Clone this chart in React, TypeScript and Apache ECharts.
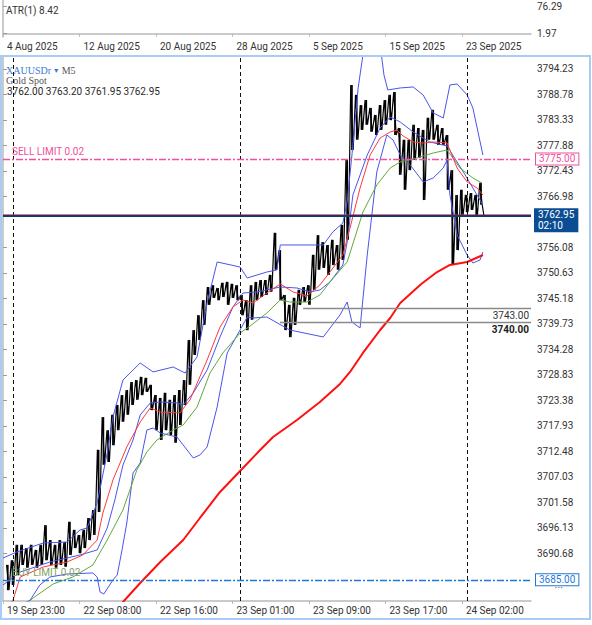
import React, { useEffect, useRef } from 'react';
import * as echarts from 'echarts';

// ---- labels ----
const topDateLabels = ['4 Aug 2025', '12 Aug 2025', '20 Aug 2025', '28 Aug 2025', '5 Sep 2025', '15 Sep 2025', '23 Sep 2025'];
const timeLabels = ['19 Sep 23:00', '22 Sep 08:00', '22 Sep 16:00', '23 Sep 01:00', '23 Sep 09:00', '23 Sep 17:00', '24 Sep 02:00'];
const priceTicks = [3794.23, 3788.78, 3783.33, 3777.88, 3772.43, 3766.98, 3756.08, 3750.63, 3745.18, 3739.73, 3734.28, 3728.83, 3723.38, 3717.93, 3712.48, 3707.03, 3701.58, 3696.13, 3690.68];
const atrTicks = [1.97, 76.29];

// x unit = 30-minute block of trading time since 19 Sep 23:00
const X_MAX = 110.46;
const Y_MIN = 3680.48;
const Y_MAX = 3796.79;

// ---- price (30-min block highs / lows, blocks 1..100) ----
const priceHigh = [
  3688.2, 3689.2, 3692.5, 3692.5, 3691.8, 3692.5, 3691.4, 3692.5, 3696.7, 3693.5,
  3692.5, 3693.5, 3693.1, 3697.4, 3695.7, 3694.6, 3695.7, 3698.2, 3699.9, 3712.8,
  3719.8, 3717.0, 3720.3, 3722.4, 3724.5, 3725.6, 3727.3, 3727.7, 3728.4, 3728.2,
  3726.7, 3724.5, 3723.9, 3725.0, 3723.5, 3724.5, 3725.6, 3727.7, 3736.3, 3738.4,
  3741.6, 3744.8, 3747.6, 3748.0, 3747.4, 3748.5, 3748.7, 3748.3, 3748.0, 3745.9,
  3744.8, 3748.0, 3748.7, 3749.1, 3749.1, 3750.2, 3759.2, 3755.5, 3745.9, 3743.8,
  3745.3, 3747.0, 3747.6, 3748.0, 3754.5, 3758.7, 3757.2, 3756.6, 3757.7, 3756.6,
  3760.9, 3774.8, 3790.8, 3788.7, 3786.5, 3787.6, 3785.9, 3784.4, 3786.5, 3787.6,
  3788.7, 3789.3, 3781.6, 3779.1, 3779.1, 3782.3, 3781.6, 3781.2, 3783.8, 3785.5,
  3782.3, 3781.6, 3780.1, 3772.6, 3767.3, 3768.4, 3767.3, 3767.7, 3767.3, 3769.9,
];
const priceLow = [
  3682.8, 3683.9, 3686.0, 3688.2, 3687.6, 3688.2, 3687.6, 3688.2, 3689.2, 3688.2,
  3687.6, 3688.2, 3687.8, 3690.3, 3691.8, 3690.7, 3691.8, 3693.5, 3694.6, 3699.5,
  3709.6, 3710.2, 3713.8, 3717.0, 3718.8, 3720.3, 3722.4, 3723.5, 3724.5, 3725.2,
  3721.3, 3717.0, 3714.9, 3717.0, 3716.0, 3714.3, 3718.1, 3722.4, 3726.7, 3733.1,
  3736.3, 3739.5, 3743.8, 3745.3, 3744.8, 3745.5, 3743.8, 3745.3, 3744.8, 3741.6,
  3738.4, 3740.6, 3744.8, 3745.5, 3745.9, 3746.6, 3751.3, 3744.8, 3738.4, 3736.9,
  3739.5, 3743.8, 3744.4, 3743.8, 3747.0, 3751.3, 3751.7, 3750.2, 3752.3, 3751.3,
  3753.4, 3757.7, 3776.9, 3779.1, 3781.2, 3782.3, 3780.8, 3780.1, 3781.2, 3782.3,
  3783.3, 3780.1, 3771.6, 3768.4, 3772.6, 3774.8, 3775.2, 3766.2, 3779.1, 3779.1,
  3778.0, 3778.0, 3768.4, 3752.3, 3755.5, 3763.0, 3763.6, 3764.1, 3763.0, 3765.2,
];
const lastBar = [100.6, 3762.95];

// ---- indicators [x, price] ----
const bbUpper = [
  [0, 3689.67], [2.9, 3690.96], [8.4, 3692.88], [13.4, 3693.1], [16.1, 3695.66], [17.6, 3696.09],
  [19.7, 3701.44], [21.8, 3712.13], [23.0, 3719.83], [25.1, 3727.73], [28.7, 3731.37], [31.4, 3729.45],
  [35.6, 3730.51], [38.1, 3729.23], [40.6, 3732.65], [42.7, 3744.2], [44.8, 3752.96], [49.6, 3751.89],
  [51.1, 3749.54], [55.2, 3750.82], [57.3, 3751.25], [58.0, 3756.6], [67.0, 3756.6], [69.0, 3759.38],
  [71.1, 3761.3], [72.0, 3765.81], [73.0, 3775.84], [74.3, 3790.17], [75.3, 3797.22], [77.2, 3802.57],
  [78.9, 3799.36], [79.7, 3792.95], [80.5, 3789.74], [83.1, 3790.17], [85.8, 3790.38], [87.9, 3788.67],
  [90.0, 3784.82], [92.1, 3783.75], [93.5, 3790.81], [95.0, 3791.02], [97.1, 3788.67], [98.3, 3785.89],
  [100.4, 3775.84],
];
const bbMiddle = [
  [0, 3683.9], [3.6, 3686.68], [9.8, 3688.82], [16.1, 3690.32], [19.7, 3691.39], [21.8, 3696.09],
  [23.4, 3702.08], [25.1, 3709.56], [27.2, 3714.9], [28.7, 3720.25], [30.8, 3722.82], [32.9, 3723.03],
  [36.4, 3722.82], [37.7, 3722.39], [39.8, 3724.96], [42.7, 3729.87], [45.4, 3736.93], [48.1, 3743.34],
  [50.2, 3746.33], [53.1, 3746.55], [58.0, 3747.62], [61.5, 3747.4], [64.2, 3746.55], [66.3, 3746.98],
  [68.4, 3748.69], [71.1, 3752.32], [72.0, 3757.24], [73.2, 3767.29], [76.2, 3775.84], [78.9, 3781.61],
  [81.0, 3783.96], [83.1, 3782.89], [85.8, 3780.76], [89.3, 3778.62], [92.9, 3777.76], [96.7, 3771.56],
  [100.4, 3765.15],
];
const bbLower = [
  [0, 3677.49], [5.7, 3680.69], [7.7, 3683.9], [9.8, 3685.61], [13.4, 3686.25], [18.8, 3686.47],
  [19.7, 3685.61], [20.3, 3682.4], [21.1, 3681.98], [23.0, 3684.97], [23.9, 3686.04], [24.9, 3691.39],
  [25.9, 3697.16], [27.2, 3707.85], [28.7, 3709.99], [30.1, 3717.04], [31.4, 3717.47], [32.9, 3716.4],
  [36.4, 3715.54], [39.8, 3711.06], [41.2, 3711.7], [42.7, 3713.41], [44.8, 3721.96], [46.9, 3733.51],
  [49.6, 3738.42], [51.1, 3741.2], [52.3, 3740.99], [55.2, 3741.2], [60.0, 3738.42], [67.0, 3736.93],
  [70.5, 3741.63], [72.0, 3744.41], [73.0, 3740.13], [74.7, 3738.85], [76.2, 3754.46], [78.2, 3772.21],
  [80.3, 3780.12], [81.6, 3779.05], [83.1, 3775.84], [85.2, 3773.7], [87.9, 3770.07], [90.0, 3770.92],
  [92.1, 3773.06], [92.9, 3774.77], [93.5, 3767.29], [95.0, 3758.73], [97.1, 3754.46], [98.3, 3752.75],
  [99.8, 3753.39], [100.4, 3755.1],
];
const maFast = [
  [0, 3677.49], [2.1, 3680.69], [3.6, 3685.61], [8.4, 3687.75], [13.4, 3688.82], [16.7, 3690.32],
  [19.7, 3693.52], [20.9, 3699.3], [23.0, 3706.35], [25.9, 3713.41], [28.7, 3718.75], [30.8, 3721.75],
  [32.9, 3720.89], [37.0, 3720.68], [39.1, 3723.46], [42.7, 3732.01], [45.4, 3739.06], [48.1, 3743.34],
  [50.2, 3744.84], [52.3, 3744.2], [55.2, 3746.33], [58.0, 3748.26], [60.7, 3746.55], [63.6, 3745.69],
  [66.3, 3748.05], [68.4, 3750.82], [71.1, 3754.46], [72.6, 3760.23], [74.7, 3768.78], [76.8, 3775.84],
  [78.9, 3779.47], [81.0, 3780.76], [82.4, 3781.18], [83.7, 3779.9], [85.8, 3778.62], [87.9, 3778.41],
  [90.0, 3778.62], [92.9, 3778.41], [95.0, 3773.06], [97.1, 3770.07], [99.2, 3768.78], [100.4, 3767.29],
];
const maSlow = [
  [0, 3675.36], [6.3, 3681.12], [10.5, 3684.12], [14.6, 3685.61], [18.8, 3688.18], [21.8, 3693.52],
  [25.1, 3699.94], [28.0, 3708.49], [30.1, 3712.34], [32.2, 3714.9], [35.6, 3717.04], [37.7, 3718.11],
  [40.6, 3721.96], [43.3, 3729.23], [46.0, 3733.51], [49.6, 3737.78], [51.7, 3739.28], [55.2, 3742.06],
  [58.0, 3744.84], [60.0, 3744.41], [63.6, 3744.41], [66.3, 3745.91], [68.4, 3748.69], [72.0, 3752.96],
  [75.3, 3763.65], [78.2, 3769.43], [81.0, 3773.06], [83.1, 3774.35], [86.6, 3775.2], [90.0, 3776.27],
  [92.9, 3776.91], [95.6, 3773.06], [98.3, 3770.92], [100.2, 3769.85],
];
const maLong = [
  [23.0, 3676.0], [25.1, 3680.26], [28.7, 3684.33], [32.9, 3688.82], [37.7, 3693.52], [41.2, 3698.23],
  [45.4, 3703.79], [50.2, 3708.92], [53.8, 3712.77], [56.5, 3715.54], [61.5, 3719.18], [66.3, 3723.03],
  [70.5, 3726.88], [72.6, 3729.45], [75.3, 3733.51], [78.9, 3738.42], [81.0, 3740.99], [83.1, 3744.2],
  [87.5, 3748.26], [90.8, 3750.82], [93.5, 3752.32], [97.1, 3752.96], [100.4, 3754.46],
];

// ---- levels ----
const sellLimit = 3775.0;
const buyLimit = 3685.0;
const bidPrice = 3762.95;
const askPrice = 3763.2;
const levelA = { price: 3743.0, from: 62.8 };
const levelB = { price: 3740.0, from: 57.95 };
const daySeparators = [2.15, 49.58, 97.11];

const FONT = 'Roboto';
const PINK = '#f0509e';
const BLUE_LIMIT = '#1f78d6';

function buildZigzag(): number[][] {
  const pts: number[][] = [];
  priceHigh.forEach((h, k) => {
    const i = k + 1;
    pts.push([i - 0.25, h]);
    pts.push([i + 0.25, priceLow[k]]);
  });
  pts.push(lastBar);
  return pts;
}

const sticks = priceHigh.map((h, k) => [k + 1, h, priceLow[k]]);

const axisGray = '#b9b9b9';
const HIDDEN_LINE = { color: 'rgba(0,0,0,0)', width: 0 };

function lineSeries(name: string, data: number[][], color: string, width: number) {
  return {
    name,
    type: 'line',
    xAxisIndex: 1,
    yAxisIndex: 1,
    data,
    symbol: 'none',
    smooth: false,
    silent: true,
    lineStyle: { color, width },
  };
}

export default function App() {
  const ref = useRef<HTMLDivElement>(null);
  useEffect(() => {
    const chart = echarts.init(ref.current!, undefined, { renderer: 'svg' });
    const xLabel = (labels: string[]) => ({
      formatter: (v: number) => (Math.abs(v % 16) < 1e-6 ? labels[Math.round(v / 16)] ?? '' : ''),
      align: 'left',
      padding: [0, 0, 0, 4],
      color: '#333',
      fontSize: 10,
      fontFamily: FONT,
      margin: 4,
      showMaxLabel: false,
    });
    const option: any = {
      animation: false,
      backgroundColor: '#ffffff',
      textStyle: { fontFamily: FONT },
      grid: [
        { left: 3, right: 61, top: 0, height: 37 },
        { left: 3, right: 61, top: 57, bottom: 24 },
      ],
      xAxis: [
        {
          gridIndex: 0, type: 'value', min: 0, max: X_MAX, interval: 16,
          axisLine: { show: true, lineStyle: { color: axisGray, width: 1.5 } },
          axisTick: { show: true, length: 3, lineStyle: { color: axisGray } },
          axisLabel: xLabel(topDateLabels),
          splitLine: { show: false },
        },
        {
          gridIndex: 1, type: 'value', min: 0, max: X_MAX, interval: 16,
          axisLine: { show: true, lineStyle: { color: axisGray, width: 1.5 } },
          axisTick: { show: true, length: 3, lineStyle: { color: axisGray } },
          axisLabel: xLabel(timeLabels),
          splitLine: { show: false },
        },
      ],
      yAxis: [
        {
          gridIndex: 0, type: 'value', position: 'right', min: -9.04, max: 92.81,
          axisLine: { show: true, lineStyle: { color: axisGray, width: 1.5 } },
          axisTick: { show: true, length: 4, customValues: atrTicks, lineStyle: { color: '#999' } },
          axisLabel: { customValues: atrTicks, formatter: (v: number) => v.toFixed(2), color: '#333', fontSize: 10, fontFamily: FONT, margin: 6 },
          splitLine: { show: false },
        },
        {
          gridIndex: 1, type: 'value', position: 'right', min: Y_MIN, max: Y_MAX,
          axisLine: { show: true, lineStyle: { color: axisGray, width: 1.5 } },
          axisTick: { show: true, length: 4, customValues: priceTicks, lineStyle: { color: '#999' } },
          axisLabel: { customValues: priceTicks, formatter: (v: number) => v.toFixed(2), color: '#333', fontSize: 10, fontFamily: FONT, margin: 6 },
          splitLine: { show: false },
        },
      ],
      series: [
        {
          name: 'XAUUSDr bars',
          type: 'custom',
          xAxisIndex: 1,
          yAxisIndex: 1,
          data: sticks,
          encode: { x: 0, y: [1, 2] },
          silent: true,
          clip: true,
          z: 2,
          renderItem: (_params: any, api: any) => {
            const x = api.value(0);
            const p1 = api.coord([x, api.value(1)]);
            const p2 = api.coord([x, api.value(2)]);
            return {
              type: 'line',
              shape: { x1: p1[0], y1: p1[1], x2: p2[0], y2: p2[1] },
              style: { stroke: '#000', lineWidth: 1.7 },
            };
          },
        },
        {
          name: 'XAUUSDr',
          type: 'line',
          xAxisIndex: 1,
          yAxisIndex: 1,
          data: buildZigzag(),
          symbol: 'none',
          silent: true,
          lineStyle: { color: '#000000', width: 1.2 },
          z: 2,
          markLine: {
            silent: true,
            symbol: ['none', 'none'],
            label: { show: false },
            data: [
              ...daySeparators.map((x) => ({ xAxis: x, lineStyle: { color: '#111', type: [4, 3], width: 1 }, label: { show: false } })),
              {
                yAxis: sellLimit,
                lineStyle: { color: PINK, type: [7, 2, 2, 2], width: 1.4 },
                label: { show: true, position: 'insideStartTop', formatter: 'SELL LIMIT 0.02', color: PINK, fontSize: 10, fontFamily: FONT, distance: [9, 2] },
              },
              {
                yAxis: sellLimit,
                lineStyle: HIDDEN_LINE,
                label: { show: true, position: 'end', formatter: sellLimit.toFixed(2), color: PINK, fontSize: 10, fontFamily: FONT, backgroundColor: '#fff', borderColor: PINK, borderWidth: 1, padding: [1, 3, 0, 3], distance: 5 },
              },
              {
                yAxis: buyLimit,
                lineStyle: { color: BLUE_LIMIT, type: [7, 2, 2, 2], width: 1.4 },
                label: { show: true, position: 'insideStartTop', formatter: 'BUY LIMIT 0.02', color: '#7ea35f', fontSize: 10, fontFamily: FONT, distance: [9, 2] },
              },
              {
                yAxis: buyLimit,
                lineStyle: HIDDEN_LINE,
                label: { show: true, position: 'end', formatter: buyLimit.toFixed(2), color: BLUE_LIMIT, fontSize: 10, fontFamily: FONT, backgroundColor: '#fff', borderColor: BLUE_LIMIT, borderWidth: 1, padding: [1, 3, 0, 3], distance: 5 },
              },
              {
                yAxis: askPrice,
                lineStyle: { color: '#d42020', type: 'solid', width: 0.6 },
                label: { show: false },
              },
              {
                yAxis: bidPrice,
                lineStyle: { color: '#0c3c78', type: 'solid', width: 1.8 },
                label: { show: true, position: 'end', formatter: bidPrice.toFixed(2) + '\n02:10', color: '#fff', fontSize: 10, lineHeight: 11, fontFamily: FONT, backgroundColor: '#0b4d93', padding: [1, 4, 1, 4], distance: 3, offset: [0, 5] },
              },
              [
                { coord: [levelA.from, levelA.price], lineStyle: { color: '#8a8a8a', type: 'solid', width: 1.3 }, label: { show: true, position: 'insideEndBottom', formatter: levelA.price.toFixed(2), color: '#333', fontSize: 10, fontFamily: FONT, distance: 2 } },
                { coord: [X_MAX, levelA.price] },
              ],
              [
                { coord: [levelB.from, levelB.price], lineStyle: { color: '#8a8a8a', type: 'solid', width: 1.3 }, label: { show: true, position: 'insideEndBottom', formatter: levelB.price.toFixed(2), color: '#222', fontWeight: 'bold', fontSize: 10, fontFamily: FONT, distance: 2 } },
                { coord: [X_MAX, levelB.price] },
              ],
            ],
          },
        },
        lineSeries('BB Upper', bbUpper, '#4a55ec', 1),
        lineSeries('BB Middle', bbMiddle, '#4a55ec', 1),
        lineSeries('BB Lower', bbLower, '#4a55ec', 1),
        lineSeries('MA Slow', maSlow, '#62a838', 1),
        lineSeries('MA Fast', maFast, '#ff3a3a', 1),
        lineSeries('MA Long', maLong, '#ff1010', 2),
      ],
      graphic: [
        { type: 'rect', silent: true, shape: { x: 1, y: 56, width: 589, height: 563 }, style: { fill: 'none', stroke: '#a8ccf4', lineWidth: 2 }, z: 100 },
        { type: 'text', left: 6, top: 5, style: { text: 'ATR(1) 8.42', fill: '#333', font: '10px Roboto' } },
        {
          type: 'text', left: 6, top: 64,
          style: {
            text: '{a|XAUUSDr} {b|▾} {c|M5}',
            rich: {
              a: { fill: '#3b78d6', font: '10px "Liberation Serif"' },
              b: { fill: '#3b78d6', font: '8px "DejaVu Sans"' },
              c: { fill: '#555', font: '10px "Liberation Serif"' },
            },
          },
        },
        { type: 'text', left: 6, top: 75, style: { text: 'Gold Spot', fill: '#555', font: '10px "Liberation Serif"' } },
        { type: 'text', left: 7, top: 86, style: { text: '3762.00 3763.20 3761.95 3762.95', fill: '#2a2a2a', font: '10px Roboto' } },
        { type: 'text', left: 555, top: 585, style: { text: '• • •', fill: '#333', font: '5px Roboto' } },
      ],
    };
    chart.setOption(option);
    return () => chart.dispose();
  }, []);
  return <div ref={ref} style={{ position: 'fixed', left: 0, top: 0, width: 592, height: 625 }} />;
}
